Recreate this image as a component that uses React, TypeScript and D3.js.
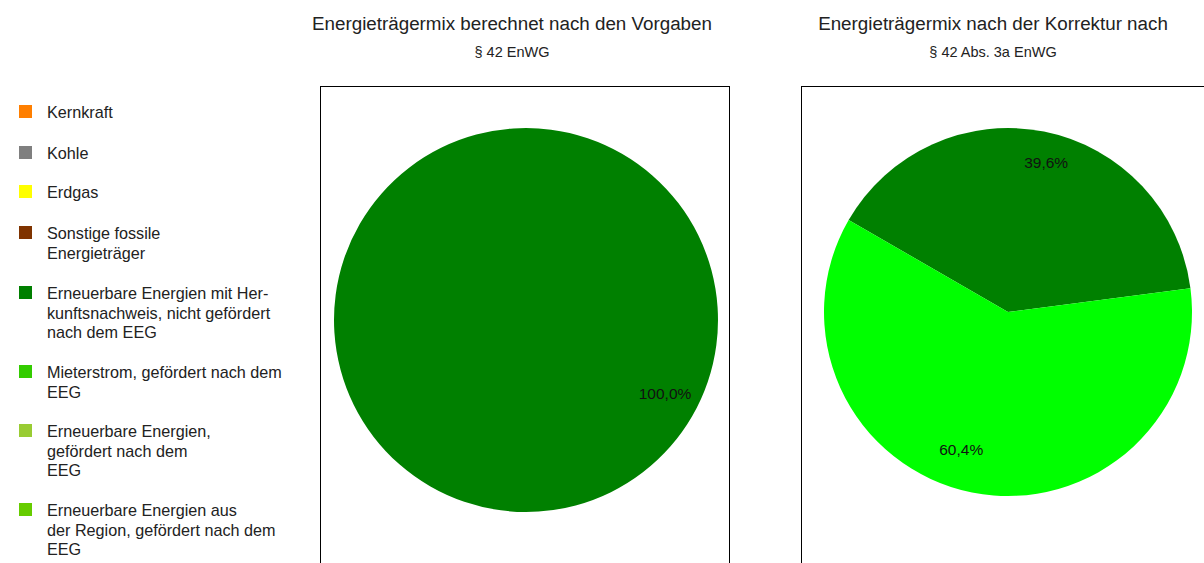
import React from "react";
import * as d3 from "d3";

const legendLabels: string[][] = [
  ["Kernkraft"],
  ["Kohle"],
  ["Erdgas"],
  ["Sonstige fossile", "Energieträger"],
  ["Erneuerbare Energien mit Her-", "kunftsnachweis, nicht gefördert", "nach dem EEG"],
  ["Mieterstrom, gefördert nach dem", "EEG"],
  ["Erneuerbare Energien,", "gefördert nach dem", "EEG"],
  ["Erneuerbare Energien aus", "der Region, gefördert nach dem", "EEG"],
];
const legendColors = ["#ff7f00", "#7f7f7f", "#ffff00", "#7f3300", "#007f00", "#33cc00", "#99cc33", "#66cc00"];
const legendY = [112, 153, 192, 233, 293, 372, 431, 510];

const chart1Title = "Energieträgermix berechnet nach den Vorgaben";
const chart1Sub = "§ 42 EnWG";
const chart1Labels = ["EE mit HKN"];
const chart1Values = [100.0];
const chart1Colors = ["#008000"];

const chart2Title = "Energieträgermix nach der Korrektur nach";
const chart2Sub = "§ 42 Abs. 3a EnWG";
const chart2Labels = ["EE mit HKN", "Mieterstrom"];
const chart2Values = [39.6, 60.4];
const chart2Colors = ["#008000", "#00ff00"];

const FONT = "Arial, 'Liberation Sans', sans-serif";

type PieProps = {
  title: string;
  sub: string;
  values: number[];
  labels: string[];
  colors: string[];
  boxX: number;
  boxW: number;
  cx: number;
  cy: number;
  r: number;
  titleX: number;
  labelOffsets: number[];
  labelRadii: number[];
};

function PieChart(p: PieProps) {
  const start = (-60 * Math.PI) / 180;
  const pie = d3
    .pie<number>()
    .sort(null)
    .value((d) => d)
    .startAngle(start)
    .endAngle(start + 2 * Math.PI);
  const arcs = pie(p.values);
  const arc = d3.arc<d3.PieArcDatum<number>>().innerRadius(0).outerRadius(p.r);
  const fmt = (v: number) => v.toFixed(1).replace(".", ",") + "%";
  return (
    <g>
      <text x={p.titleX} y={30} textAnchor="middle" fontFamily={FONT} fontSize={18.8} fill="#222">
        {p.title}
      </text>
      <text x={p.titleX} y={57} textAnchor="middle" fontFamily={FONT} fontSize={14.5} fill="#222">
        {p.sub}
      </text>
      <rect x={p.boxX + 0.5} y={86.5} width={p.boxW} height={520} fill="none" stroke="#000" strokeWidth={1} />
      <g transform={`translate(${p.cx},${p.cy})`}>
        {arcs.map((a, i) => (
          <path key={p.labels[i]} d={arc(a) || ""} fill={p.colors[i]} />
        ))}
        {arcs.map((a, i) => {
          const mid = (a.startAngle + a.endAngle) / 2 + (p.labelOffsets[i] * Math.PI) / 180;
          const lr = p.r * p.labelRadii[i];
          return (
            <text
              key={"l" + i}
              x={Math.sin(mid) * lr}
              y={-Math.cos(mid) * lr}
              textAnchor="middle"
              dominantBaseline="central"
              fontFamily={FONT}
              fontSize={15.5}
              fill="#111"
            >
              {fmt(p.values[i])}
            </text>
          );
        })}
      </g>
    </g>
  );
}

export default function App() {
  return (
    <svg
      width={1204}
      height={563}
      style={{ position: "absolute", left: 0, top: 0, background: "#fff" }}
    >
      <rect width={1204} height={563} fill="#fff" />
      {legendLabels.map((lines, i) => (
        <g key={i}>
          <rect x={19} y={legendY[i] - 7} width={13} height={13} fill={legendColors[i]} />
          <text x={47} y={legendY[i] + 6} fontFamily={FONT} fontSize={16.2} fill="#222">
            {lines.map((ln, j) => (
              <tspan key={j} x={47} dy={j === 0 ? 0 : 19.5}>
                {ln}
              </tspan>
            ))}
          </text>
        </g>
      ))}
      <PieChart
        title={chart1Title}
        sub={chart1Sub}
        values={chart1Values}
        labels={chart1Labels}
        colors={chart1Colors}
        boxX={320}
        boxW={409}
        cx={526}
        cy={320}
        r={192}
        titleX={512}
        labelOffsets={[-2]}
        labelRadii={[0.82]}
      />
      <PieChart
        title={chart2Title}
        sub={chart2Sub}
        values={chart2Values}
        labels={chart2Labels}
        colors={chart2Colors}
        boxX={801}
        boxW={420}
        cx={1008}
        cy={312}
        r={184}
        titleX={993}
        labelOffsets={[3, 7.5]}
        labelRadii={[0.84, 0.79]}
      />
    </svg>
  );
}
